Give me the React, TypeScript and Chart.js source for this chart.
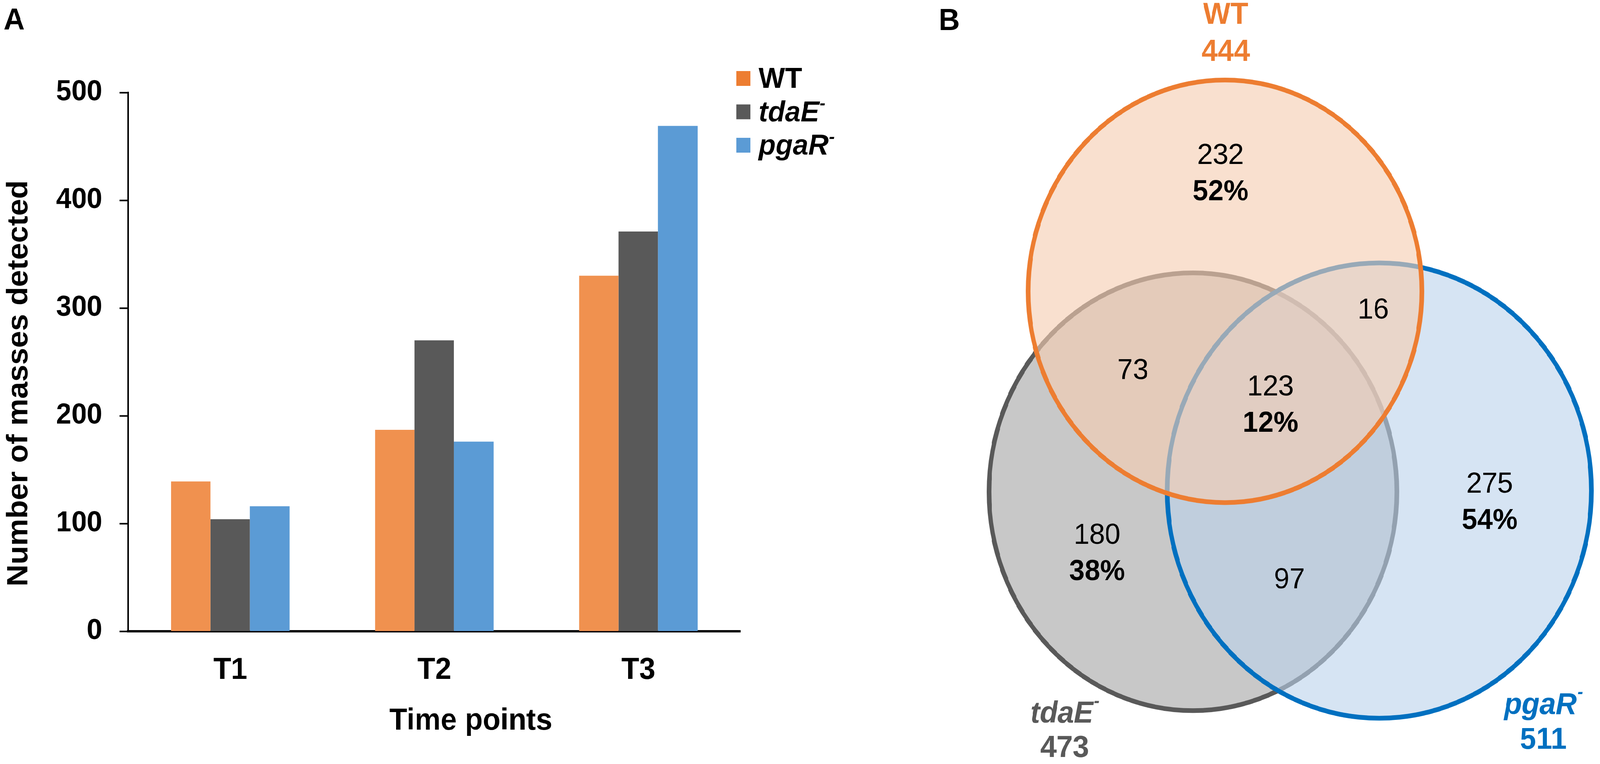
import React, { useEffect, useRef } from 'react';
import { Chart, registerables } from 'chart.js';

Chart.register(...registerables);

const FONT = "'Liberation Sans', Arial, Helvetica, sans-serif";
const PAGE_W = 4292;
const PAGE_H = 1957;

// ---------- Panel A data ----------
const timePoints = ['T1', 'T2', 'T3'];
const seriesLabels = ['WT', 'tdaE⁻', 'pgaR⁻'];
const seriesItalic = [false, true, true];
const wtValues = [139, 187, 330];
const tdaEValues = [104, 270, 371];
const pgaRValues = [116, 176, 469];
const yTickValues = [0, 100, 200, 300, 400, 500];
const yAxisTitle = 'Number of masses detected';
const xAxisTitle = 'Time points';

// ---------- Panel B data ----------
const vennSetNames = ['WT', 'tdaE⁻', 'pgaR⁻'];
const vennSetTotals = [444, 473, 511];
const vennRegionCounts = [232, 16, 73, 123, 180, 97, 275];
const vennRegionPercents = ['52%', '', '', '12%', '38%', '', '54%'];
// circle geometry in Venn units (centre x, centre y, radius)
const vennCircleX = [986, 900, 1400];
const vennCircleY = [728, 1229, 1226];
const vennCircleR = [528, 547, 569];

// ---------- styles / layout ----------
const barColors = ['#F0914F', '#595959', '#5B9BD5'];
const legendColors = ['#ED7D31', '#595959', '#5B9BD5'];
const vennStroke = ['#ED7D31', '#595959', '#0070C0'];
const vennFill = ['rgba(246,205,178,0.62)', '#C8C8C8', 'rgba(187,210,235,0.6)'];
const vennDrawOrder = [1, 2, 0];
const vennRegionX = [974, 1384, 739, 1108, 643, 1159, 1696];
const vennRegionY = [390, 776, 927, 968, 1339, 1450, 1211];
const vennNameX = [988, 556, 1840];
const vennNameY = [39, 1785, 1763];
const vennTotalY = [131, 1871, 1850];

function drawSupText(
  ctx: CanvasRenderingContext2D,
  text: string,
  x: number,
  y: number,
  size: number,
  italic: boolean,
  align: 'left' | 'center',
  color: string,
  baseline: CanvasTextBaseline
) {
  const hasSup = text.includes('⁻');
  const base = text.replace('⁻', '');
  const mainFont = `${italic ? 'italic ' : ''}bold ${size}px ${FONT}`;
  const supSize = Math.round(size * 0.6);
  const supFont = `${italic ? 'italic ' : ''}bold ${supSize}px ${FONT}`;
  ctx.font = mainFont;
  const wMain = ctx.measureText(base).width;
  ctx.font = supFont;
  const wSup = hasSup ? ctx.measureText('-').width : 0;
  const total = wMain + wSup;
  const x0 = align === 'center' ? x - total / 2 : x;
  ctx.fillStyle = color;
  ctx.textAlign = 'left';
  ctx.textBaseline = baseline;
  ctx.font = mainFont;
  ctx.fillText(base, x0, y);
  if (hasSup) {
    ctx.font = supFont;
    ctx.fillText('-', x0 + wMain + size * 0.02, y - size * 0.42);
  }
}

const panelAPlugin = {
  id: 'panelA',
  afterDraw(chart: any) {
    const ctx: CanvasRenderingContext2D = chart.ctx;
    const area = chart.chartArea;
    ctx.save();
    ctx.fillStyle = '#000';
    ctx.font = `bold 78px ${FONT}`;
    ctx.textAlign = 'left';
    ctx.textBaseline = 'alphabetic';
    ctx.fillText('A', 10, 76);
    // y title
    ctx.save();
    ctx.translate(73, (area.top + area.bottom) / 2 + 55);
    ctx.rotate(-Math.PI / 2);
    ctx.textAlign = 'center';
    ctx.textBaseline = 'alphabetic';
    ctx.font = `bold 78px ${FONT}`;
    ctx.fillText(yAxisTitle, 0, 0);
    ctx.restore();
    // x title
    ctx.textAlign = 'center';
    ctx.textBaseline = 'alphabetic';
    ctx.font = `bold 78px ${FONT}`;
    ctx.fillText(xAxisTitle, (area.left + area.right) / 2 + 98, 1869);
    // legend
    const lx = 1975;
    const top0 = 182;
    const gap = 85.5;
    const box = 38;
    chart.data.datasets.forEach((ds: any, i: number) => {
      const t = top0 + i * gap;
      ctx.fillStyle = legendColors[i];
      ctx.fillRect(lx, t, box, box);
      drawSupText(ctx, ds.label, lx + 60, t + 43, 75, seriesItalic[i], 'left', '#000', 'alphabetic');
    });
    ctx.restore();
  },
};

const vennPlugin = {
  id: 'venn',
  afterDraw(chart: any) {
    const ctx: CanvasRenderingContext2D = chart.ctx;
    const xs = chart.scales.x;
    const ys = chart.scales.y;
    ctx.save();
    vennDrawOrder.forEach((i) => {
      const px = xs.getPixelForValue(vennCircleX[i]);
      const py = ys.getPixelForValue(vennCircleY[i]);
      const rx = Math.abs(xs.getPixelForValue(vennCircleX[i] + vennCircleR[i]) - px);
      const ry = Math.abs(ys.getPixelForValue(vennCircleY[i] + vennCircleR[i]) - py);
      ctx.beginPath();
      ctx.ellipse(px, py, rx, ry, 0, 0, Math.PI * 2);
      ctx.fillStyle = vennFill[i];
      ctx.fill();
      ctx.lineWidth = 12;
      ctx.strokeStyle = vennStroke[i];
      ctx.stroke();
    });
    vennRegionCounts.forEach((c, k) => {
      const px = xs.getPixelForValue(vennRegionX[k]);
      const py = ys.getPixelForValue(vennRegionY[k]);
      ctx.fillStyle = '#000';
      ctx.textAlign = 'center';
      ctx.textBaseline = 'middle';
      ctx.font = `75px ${FONT}`;
      ctx.fillText(String(c), px, py);
      if (vennRegionPercents[k]) {
        ctx.font = `bold 75px ${FONT}`;
        ctx.fillText(vennRegionPercents[k], px, py + 93);
      }
    });
    vennSetNames.forEach((n, i) => {
      const px = xs.getPixelForValue(vennNameX[i]);
      const pyName = ys.getPixelForValue(vennNameY[i]);
      const pyTot = ys.getPixelForValue(vennTotalY[i]);
      drawSupText(ctx, n, px, pyName, 78, i > 0, 'center', vennStroke[i], 'middle');
      ctx.fillStyle = vennStroke[i];
      ctx.textAlign = 'center';
      ctx.textBaseline = 'middle';
      ctx.font = `bold 78px ${FONT}`;
      ctx.fillText(String(vennSetTotals[i]), px, pyTot);
    });
    ctx.fillStyle = '#000';
    ctx.font = `bold 78px ${FONT}`;
    ctx.textAlign = 'left';
    ctx.textBaseline = 'alphabetic';
    ctx.fillText('B', 218, 77);
    ctx.restore();
  },
};

export default function App() {
  const aRef = useRef<HTMLCanvasElement>(null);
  const bRef = useRef<HTMLCanvasElement>(null);

  const vw = typeof window !== 'undefined' && window.innerWidth ? window.innerWidth : PAGE_W;
  const vh = typeof window !== 'undefined' && window.innerHeight ? window.innerHeight : PAGE_H;
  const sx = vw / PAGE_W;
  const sy = vh / PAGE_H;

  useEffect(() => {
    document.body.style.margin = '0';
    document.body.style.overflow = 'hidden';
    const seriesValues = [wtValues, tdaEValues, pgaRValues];
    const barChart = new Chart(aRef.current as HTMLCanvasElement, {
      type: 'bar',
      data: {
        labels: timePoints,
        datasets: seriesLabels.map((l, i) => ({
          label: l,
          data: seriesValues[i],
          backgroundColor: barColors[i],
          borderWidth: 0,
          categoryPercentage: 0.58,
          barPercentage: 1,
        })),
      },
      options: {
        animation: false,
        responsive: false,
        devicePixelRatio: 1,
        layout: { padding: { top: 237, right: 314, left: 0, bottom: 0 } },
        plugins: { legend: { display: false }, tooltip: { enabled: false }, title: { display: false } },
        scales: {
          x: {
            grid: { display: false },
            border: { display: true, color: '#000', width: 6 },
            ticks: { color: '#000', font: { family: FONT, size: 78, weight: 'bold' }, padding: 46 },
            afterFit: (s: any) => {
              s.height = 340;
            },
          },
          y: {
            min: yTickValues[0],
            max: yTickValues[yTickValues.length - 1],
            ticks: {
              stepSize: yTickValues[1] - yTickValues[0],
              color: '#000',
              font: { family: FONT, size: 74, weight: 'bold' },
              padding: 47,
            },
            grid: { drawOnChartArea: false, drawTicks: true, tickLength: 23, tickWidth: 4, tickColor: '#000' },
            border: { display: true, color: '#000', width: 4 },
            afterFit: (s: any) => {
              s.width = 344;
            },
          },
        },
      } as any,
      plugins: [panelAPlugin],
    });

    const vennChart = new Chart(bRef.current as HTMLCanvasElement, {
      type: 'scatter',
      data: { datasets: [] },
      options: {
        animation: false,
        responsive: false,
        devicePixelRatio: 1,
        layout: { padding: 0 },
        plugins: { legend: { display: false }, tooltip: { enabled: false } },
        scales: {
          x: { type: 'linear', min: 0, max: 1992, display: false },
          y: { type: 'linear', min: 0, max: 1909.3, reverse: true, display: false },
        },
      } as any,
      plugins: [vennPlugin],
    });

    return () => {
      barChart.destroy();
      vennChart.destroy();
    };
  }, []);

  return (
    <div
      style={{
        position: 'fixed',
        left: 0,
        top: 0,
        width: PAGE_W,
        height: PAGE_H,
        background: '#fff',
        transform: `scale(${sx}, ${sy})`,
        transformOrigin: '0 0',
      }}
    >
      <canvas ref={aRef} width={2300} height={1957} style={{ position: 'absolute', left: 0, top: 0 }} />
      <canvas ref={bRef} width={1992} height={1957} style={{ position: 'absolute', left: 2300, top: 0 }} />
    </div>
  );
}
